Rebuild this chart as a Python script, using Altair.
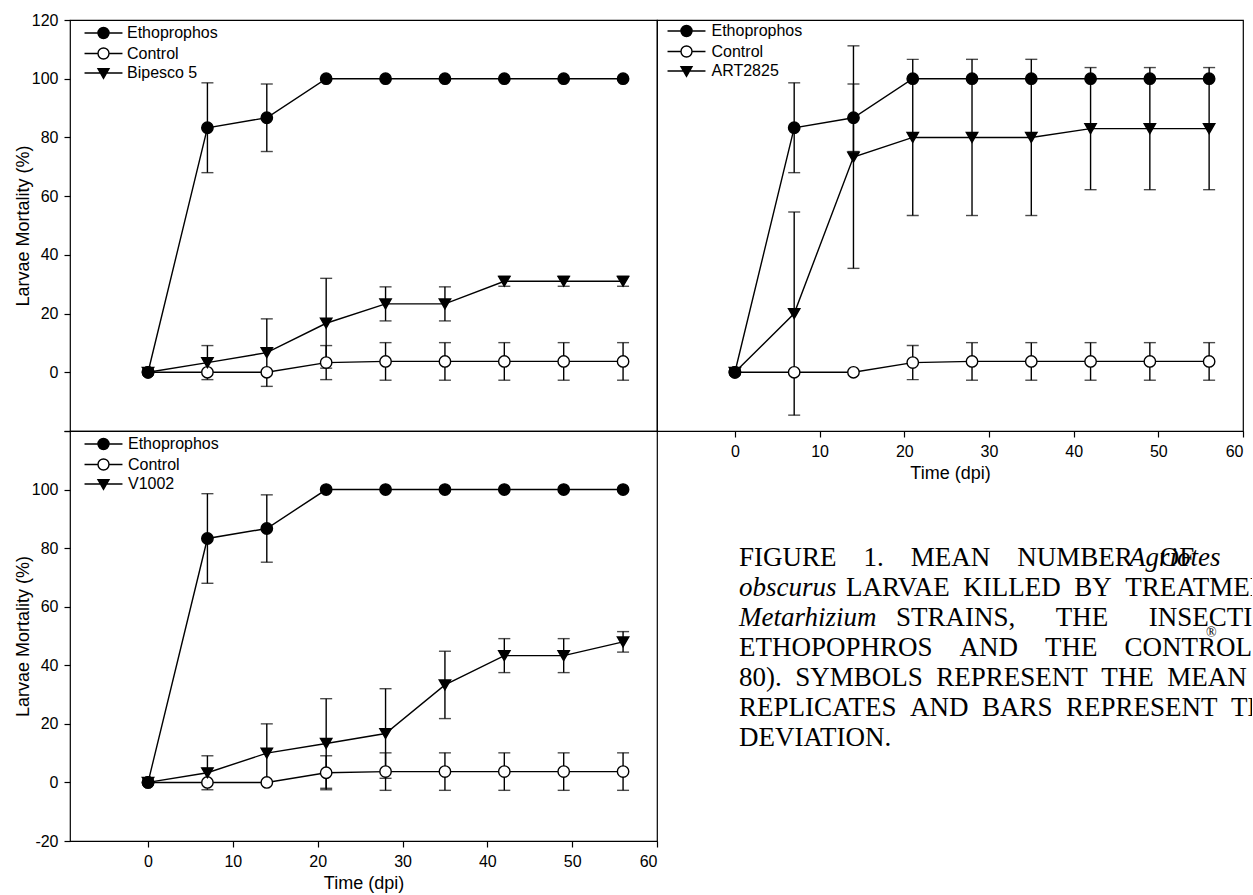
import altair as alt
import pandas as pd

# ---------------- data ----------------
days = [0, 7, 14, 21, 28, 35, 42, 49, 56]

etho_mean = [0, 83.3, 86.7, 100, 100, 100, 100, 100, 100]
etho_sd = [0, 15.3, 11.5, 0, 0, 0, 0, 0, 0]

ctrl_mean = [0, 0, 0, 3.3, 3.7, 3.7, 3.7, 3.7, 3.7]
ctrl_sd = [0, 0, 0, 5.8, 6.4, 6.4, 6.4, 6.4, 6.4]

bip_mean = [0, 3.3, 6.7, 16.7, 23.3, 23.3, 31.0, 31.0, 31.0]
bip_sd = [0, 5.8, 11.5, 15.3, 5.8, 5.8, 1.7, 1.7, 1.7]

art_mean = [0, 20.0, 73.3, 80.0, 80.0, 80.0, 83.0, 83.0, 83.0]
art_sd = [0, 34.6, 37.9, 26.6, 26.6, 26.6, 20.8, 20.8, 20.8]

v_mean = [0, 3.3, 10.0, 13.3, 16.7, 33.3, 43.3, 43.3, 48.0]
v_sd = [0, 5.8, 10.0, 15.3, 15.3, 11.5, 5.8, 5.8, 3.5]

y_ticks = [-20, 0, 20, 40, 60, 80, 100, 120]
x_ticks = [0, 10, 20, 30, 40, 50, 60]

G2 = "\u00a0" * 2
G4 = "\u00a0" * 4
G6 = "\u00a0" * 6
caption_normal = [
    "FIGURE" + G4 + "1." + G4 + "MEAN" + G4 + "NUMBER" + G4 + "OF",
    G2.join(["LARVAE", "KILLED", "BY", "TREATMENT", "WITH"]),
    "STRAINS," + G6 + "THE" + G6 + "INSECTICIDE",
    "ETHOPOPHROS" + G4 + "AND" + G4 + "THE" + G4 + "CONTROL (MOCAP",
    G2.join(["80).", "SYMBOLS", "REPRESENT", "THE", "MEAN", "OF", "THREE"]),
    G2.join(["REPLICATES", "AND", "BARS", "REPRESENT", "THE", "STANDARD"]),
    "DEVIATION.",
]
caption_italic = ["Agriotes", "obscurus", "Metarhizium"]
caption_super = "\u00ae"

# ---------------- style / layout ----------------
FONT = "Liberation Sans"
SERIF = "Liberation Serif"
W_L, W_R, H_T, H_B = 587, 586, 411, 410
XDOM = [-9.2, 60]
YDOM = [-20, 120]
LW = 1.4

CIRC = "M-3.45,0L-1,0M1,0L3.45,0M1,0A1,1,0,1,1,-1,0A1,1,0,1,1,1,0Z"
TRI = "M-3.45,0L3.45,0M-1,-0.8L1,-0.8L0,0.95Z"


def make_df(ctrl_label, treat_label, t_mean, t_sd):
    rows = []
    # drawing order: control underneath, Ethoprophos on top
    for kind, name, means, sds in [
        ("C", ctrl_label, ctrl_mean, ctrl_sd),
        ("T", treat_label, t_mean, t_sd),
        ("E", "Ethoprophos", etho_mean, etho_sd),
    ]:
        for d, m, s in zip(days, means, sds):
            rows.append({"kind": kind, "series": name, "day": d, "mean": m,
                         "sd": s, "lo": m - s, "hi": m + s})
    return pd.DataFrame(rows)


def y_axis(label_expr):
    return alt.Axis(values=y_ticks, labelExpr=label_expr, title="Larvae Mortality (%)",
                    domain=False, grid=False, ticks=True, tickSize=6, tickColor="black",
                    tickWidth=1.2, labelFont=FONT, labelFontSize=16, labelColor="black",
                    labelPadding=6, titleFont=FONT, titleFontSize=18, titleFontWeight="normal",
                    titleColor="black", titleX=-47, titleBaseline="middle")


def x_axis():
    return alt.Axis(values=x_ticks, title="Time (dpi)", domain=False, grid=False,
                    tickSize=6, tickColor="black", tickWidth=1.2, labelFont=FONT,
                    labelFontSize=16, labelColor="black", labelPadding=6,
                    titleFont=FONT, titleFontSize=18, titleFontWeight="normal",
                    titleColor="black", titlePadding=5)


def panel(df, order, xaxis, yaxis, lx, ly, loff, w, h):
    xs = alt.Scale(domain=XDOM, nice=False, zero=False)
    ys = alt.Scale(domain=YDOM, nice=False, zero=False)

    def X():
        if xaxis is None:
            return alt.X("day:Q", scale=xs, axis=None)
        return alt.X("day:Q", scale=xs, axis=xaxis)

    def Y(f):
        if yaxis is None:
            return alt.Y(f + ":Q", scale=ys, axis=None)
        return alt.Y(f + ":Q", scale=ys, axis=yaxis)

    base = alt.Chart(df)
    lines = base.mark_line(color="black", strokeWidth=LW).encode(x=X(), y=Y("mean"), detail="series:N")
    err = base.transform_filter("datum.sd > 0")
    bars = err.mark_rule(color="black", strokeWidth=LW).encode(x=X(), y=Y("lo"), y2="hi:Q")
    cap_hi = err.mark_tick(orient="horizontal", size=12, thickness=LW, color="black").encode(
        x=X(), y=Y("hi"))
    cap_lo = err.mark_tick(orient="horizontal", size=12, thickness=LW, color="black").encode(
        x=X(), y=Y("lo"))
    pts = base.mark_point(filled=True, size=130, stroke="black", strokeWidth=LW, opacity=1).encode(
        x=X(), y=Y("mean"),
        shape=alt.condition("datum.kind === 'T'", alt.value("triangle-down"), alt.value("circle")),
        fill=alt.condition("datum.kind === 'C'", alt.value("white"), alt.value("black")),
    )
    leg = alt.Legend(title=None, orient="none", legendX=lx, legendY=ly, symbolSize=121,
                     symbolStrokeColor="black", symbolStrokeWidth=LW, symbolOpacity=1,
                     labelFont=FONT, labelFontSize=16, labelColor="black",
                     labelOffset=loff, rowPadding=2.5, padding=0)
    legend_layer = base.mark_point(filled=True, opacity=0, strokeWidth=LW).encode(
        x=X(), y=Y("mean"),
        shape=alt.Shape("series:N", scale=alt.Scale(domain=order, range=[CIRC, CIRC, TRI]), legend=leg),
        fill=alt.Fill("series:N", scale=alt.Scale(domain=order, range=["black", "white", "black"]), legend=leg),
        stroke=alt.Stroke("series:N", scale=alt.Scale(domain=order, range=["black", "black", "black"]), legend=leg),
    )
    return alt.layer(lines, bars, cap_hi, cap_lo, pts, legend_layer).properties(width=w, height=h)


df1 = make_df("Control", "Bipesco 5", bip_mean, bip_sd)
df2 = make_df("\u00a0Control", "ART2825", art_mean, art_sd)
df3 = make_df("Control", "V1002", v_mean, v_sd)

tl = panel(df1, ["Ethoprophos", "Control", "Bipesco 5"], None,
           y_axis("datum.value < 0 ? '' : datum.label"), 25.5, 5, 15.5, W_L, H_T)
tr = panel(df2, ["Ethoprophos", "\u00a0Control", "ART2825"], x_axis(), None,
           21.5, 3, 17, W_R, H_T)
bl = panel(df3, ["Ethoprophos", "Control", "V1002"], x_axis(),
           y_axis("datum.value > 100 ? '' : toString(datum.value)"), 25.5, 5, 16.5, W_L, H_B)

# ---------------- caption ----------------
cap_rows = []
for i, t in enumerate(caption_normal):
    cap_rows.append({"seg": "n%d" % i, "line": i, "text": t})
for i, t in enumerate(caption_italic):
    cap_rows.append({"seg": "i%d" % i, "line": i, "text": t})
cap_rows.append({"seg": "s", "line": 3, "text": caption_super})
cap_df = pd.DataFrame(cap_rows)

CAP_H = 440
# line 0 centred 127 px below the top of the caption box, 30 px between lines
cap_scale = alt.Scale(domain=[-127 / 30, (CAP_H - 127) / 30], reverse=True, nice=False, zero=False)
CF = 27
seg_layout = [
    ("n0", 82, CF, "normal", 0), ("i0", 472, CF, "italic", 0),
    ("i1", 82, CF, "italic", 0), ("n1", 189, CF, "normal", 0),
    ("i2", 82, CF, "italic", 0), ("n2", 239, CF, "normal", 0),
    ("n3", 82, CF, "normal", 0), ("s", 549, 14, "normal", -15),
    ("n4", 82, CF, "normal", 0), ("n5", 82, CF, "normal", 0), ("n6", 82, CF, "normal", 0),
]
cap_layers = []
for seg, xp, fs, st, dy in seg_layout:
    cap_layers.append(
        alt.Chart(cap_df).transform_filter(alt.datum.seg == seg).mark_text(
            align="left", baseline="middle", font=SERIF, fontSize=fs, fontStyle=st,
            color="black", clip=True, dy=dy
        ).encode(x=alt.value(xp), y=alt.Y("line:Q", scale=cap_scale, axis=None), text="text:N")
    )
caption = alt.layer(*cap_layers).properties(width=595, height=CAP_H,
                                           view=alt.ViewBackground(strokeOpacity=0))

RES = dict(x="independent", y="independent", shape="independent",
           fill="independent", stroke="independent")

chart = alt.concat(tl, tr, bl, caption, columns=2, spacing=0, bounds="flush",
                   align="each").resolve_scale(**RES).properties(
    padding={"left": 13, "top": 11, "right": 0, "bottom": 0},
    background="white",
).configure_view(stroke="black", strokeWidth=1.2)

chart.save("out.html", embed_options={"renderer": "svg", "actions": False})
